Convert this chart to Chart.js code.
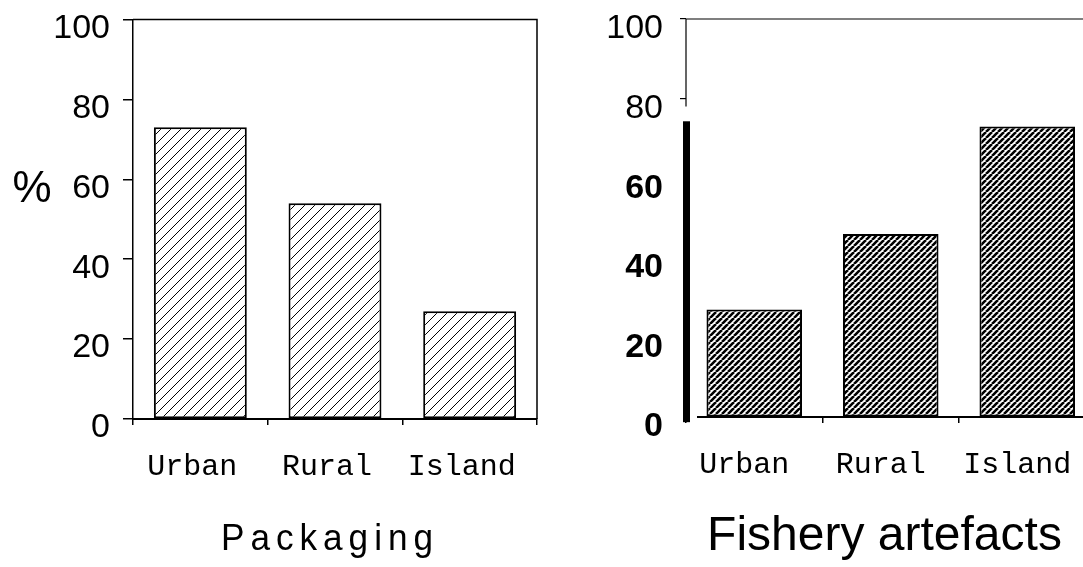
<!DOCTYPE html>
<html>
<head>
<meta charset="utf-8">
<script src="https://cdn.jsdelivr.net/npm/chart.js@4.4.1/dist/chart.umd.min.js"></script>
<style>
  html, body { margin: 0; padding: 0; background: #fff; overflow: hidden; width: 1083px; height: 567px; }
  .panel { position: absolute; top: 0; height: 567px; width: 560px; }
  #panel-izq { left: 0; }
  #panel-der { left: 560px; }
</style>
</head>
<body>
<div class="panel" id="panel-izq"><canvas id="grafico-packaging"></canvas></div>
<div class="panel" id="panel-der"><canvas id="grafico-fishery"></canvas></div>
<script>
// Datos
const categorias = ["Urban", "Rural", "Island"];
const packaging = [73, 54, 27];
const fishery = [27, 46, 73];
const yTicks = [0, 20, 40, 60, 80, 100];
const tituloPackaging = "Packaging";
const tituloFishery = "Fishery artefacts";
const unidadY = "%";

// Patron de rayado diagonal
function rayado(paso, grosor) {
  const c = document.createElement("canvas");
  c.width = paso;
  c.height = paso;
  const g = c.getContext("2d");
  g.fillStyle = "#fff";
  g.fillRect(0, 0, paso, paso);
  g.strokeStyle = "#000";
  g.lineWidth = grosor;
  g.beginPath();
  for (let k = -1; k <= 1; k++) {
    g.moveTo(k * paso, paso);
    g.lineTo(k * paso + paso, 0);
  }
  g.stroke();
  return g.createPattern(c, "repeat");
}

// Marco de ejes y textos sueltos (titulo del panel, simbolo %)
const marcoPlugin = {
  id: "marco",
  afterDraw(chart, args, opts) {
    const ctx = chart.ctx;
    const a = chart.chartArea;
    const y = chart.scales.y;
    ctx.save();
    ctx.strokeStyle = "#000";
    ctx.fillStyle = "#000";
    if (opts.estilo === "caja") {
      ctx.lineWidth = 1.5;
      ctx.beginPath();
      ctx.moveTo(a.left, a.top);
      ctx.lineTo(a.right, a.top);
      ctx.lineTo(a.right, a.bottom);
      ctx.stroke();
    } else {
      ctx.lineWidth = 1.2;
      ctx.beginPath();
      ctx.moveTo(a.left, a.top);
      ctx.lineTo(a.right + 40, a.top);
      ctx.moveTo(a.left, a.top);
      ctx.lineTo(a.left, y.getPixelForValue(78));
      ctx.stroke();
      const y1 = y.getPixelForValue(74.3);
      const y2 = y.getPixelForValue(-1.3);
      ctx.fillRect(a.left - 3, y1, 7, y2 - y1);
      ctx.lineWidth = 2;
      ctx.beginPath();
      ctx.moveTo(a.left + 11, a.bottom);
      ctx.lineTo(a.right + 40, a.bottom);
      ctx.stroke();
    }
    if (opts.unidad) {
      ctx.font = "44px 'Liberation Sans'";
      ctx.textAlign = "center";
      ctx.textBaseline = "middle";
      ctx.fillText(opts.unidad, 32, 190);
    }
    // titulo del panel
    const t = opts.titulo;
    ctx.font = t.fuente;
    ctx.textAlign = "center";
    ctx.textBaseline = "alphabetic";
    ctx.letterSpacing = t.espaciado + "px";
    ctx.translate(t.x + t.espaciado * t.escala / 2, t.base);
    ctx.scale(t.escala, 1);
    ctx.fillText(t.texto, 0, 0);
    ctx.restore();
  }
};

// quita el relleno automatico que Chart.js reserva para las etiquetas
function sinRelleno(s) {
  s.paddingTop = 0;
  s.paddingBottom = 0;
  s.paddingLeft = 0;
  s.paddingRight = 0;
}

function opcionesEjeX(alto, desplazamiento) {
  return {
    offset: true,
    grid: { offset: true, drawOnChartArea: false, drawTicks: true, tickLength: 6, color: "#000", lineWidth: 1.5 },
    border: { display: false },
    ticks: {
      color: "#000",
      font: { family: "'Liberation Mono', monospace", size: 30 },
      padding: 24,
      labelOffset: desplazamiento,
      maxRotation: 0
    },
    afterFit: s => { s.height = alto; sinRelleno(s); }
  };
}

// Panel izquierdo: Packaging
new Chart(document.getElementById("grafico-packaging"), {
  type: "bar",
  data: {
    labels: categorias,
    datasets: [{
      data: packaging,
      backgroundColor: rayado(10, 1),
      borderColor: "#000",
      borderWidth: 2,
      borderSkipped: false,
      barPercentage: 0.69,
      categoryPercentage: 1
    }]
  },
  options: {
    responsive: true,
    maintainAspectRatio: false,
    animation: false,
    layout: { padding: { top: 19.5, right: 23, left: 0, bottom: 0 } },
    plugins: {
      legend: { display: false },
      tooltip: { enabled: false },
      marco: {
        estilo: "caja",
        unidad: unidadY,
        titulo: { texto: tituloPackaging, fuente: "37px 'Liberation Sans'", x: 327, base: 550, escala: 0.95, espaciado: 6.3 }
      }
    },
    scales: {
      x: Object.assign(opcionesEjeX(148, -8), { border: { display: true, color: "#000", width: 2 } }),
      y: {
        min: 0,
        max: 100,
        afterBuildTicks: s => { s.ticks = yTicks.map(v => ({ value: v })); },
        grid: { drawOnChartArea: false, drawTicks: true, tickLength: 10, color: "#000", lineWidth: 1.5 },
        border: { display: true, color: "#000", width: 1.5 },
        ticks: {
          color: "#000",
          font: { family: "'Liberation Sans', Arial", size: 34 },
          padding: 13,
          labelOffset: 9
        },
        afterFit: s => { s.width = 133; sinRelleno(s); }
      }
    }
  },
  plugins: [marcoPlugin]
});

// Panel derecho: Fishery artefacts
new Chart(document.getElementById("grafico-fishery"), {
  type: "bar",
  data: {
    labels: categorias,
    datasets: [{
      data: fishery,
      backgroundColor: rayado(6, 2.6),
      borderColor: "#000",
      borderWidth: 2,
      borderSkipped: false,
      barPercentage: 0.7,
      categoryPercentage: 1
    }]
  },
  options: {
    responsive: true,
    maintainAspectRatio: false,
    animation: false,
    layout: { padding: { top: 19, right: 24.5, left: 0, bottom: 0 } },
    plugins: {
      legend: { display: false },
      tooltip: { enabled: false },
      marco: {
        estilo: "partido",
        titulo: { texto: tituloFishery, fuente: "48px 'Liberation Sans'", x: 324.5, base: 550, escala: 1, espaciado: 0 }
      }
    },
    scales: {
      x: opcionesEjeX(150, -10),
      y: {
        min: 0,
        max: 100,
        afterBuildTicks: s => { s.ticks = yTicks.map(v => ({ value: v })); },
        grid: {
          drawOnChartArea: false,
          drawTicks: true,
          tickLength: 6,
          lineWidth: 1.2,
          color: c => (c.tick && c.tick.value >= 80 ? "#000" : "rgba(0,0,0,0)")
        },
        border: { display: false },
        ticks: {
          color: "#000",
          font: c => (c.tick && c.tick.value >= 80
            ? { family: "'Liberation Sans', Arial", size: 34 }
            : { family: "'Liberation Sans', Arial", size: 34, weight: "bold" }),
          padding: 17,
          labelOffset: 10
        },
        afterFit: s => { s.width = 126; sinRelleno(s); }
      }
    }
  },
  plugins: [marcoPlugin]
});
</script>
</body>
</html>
